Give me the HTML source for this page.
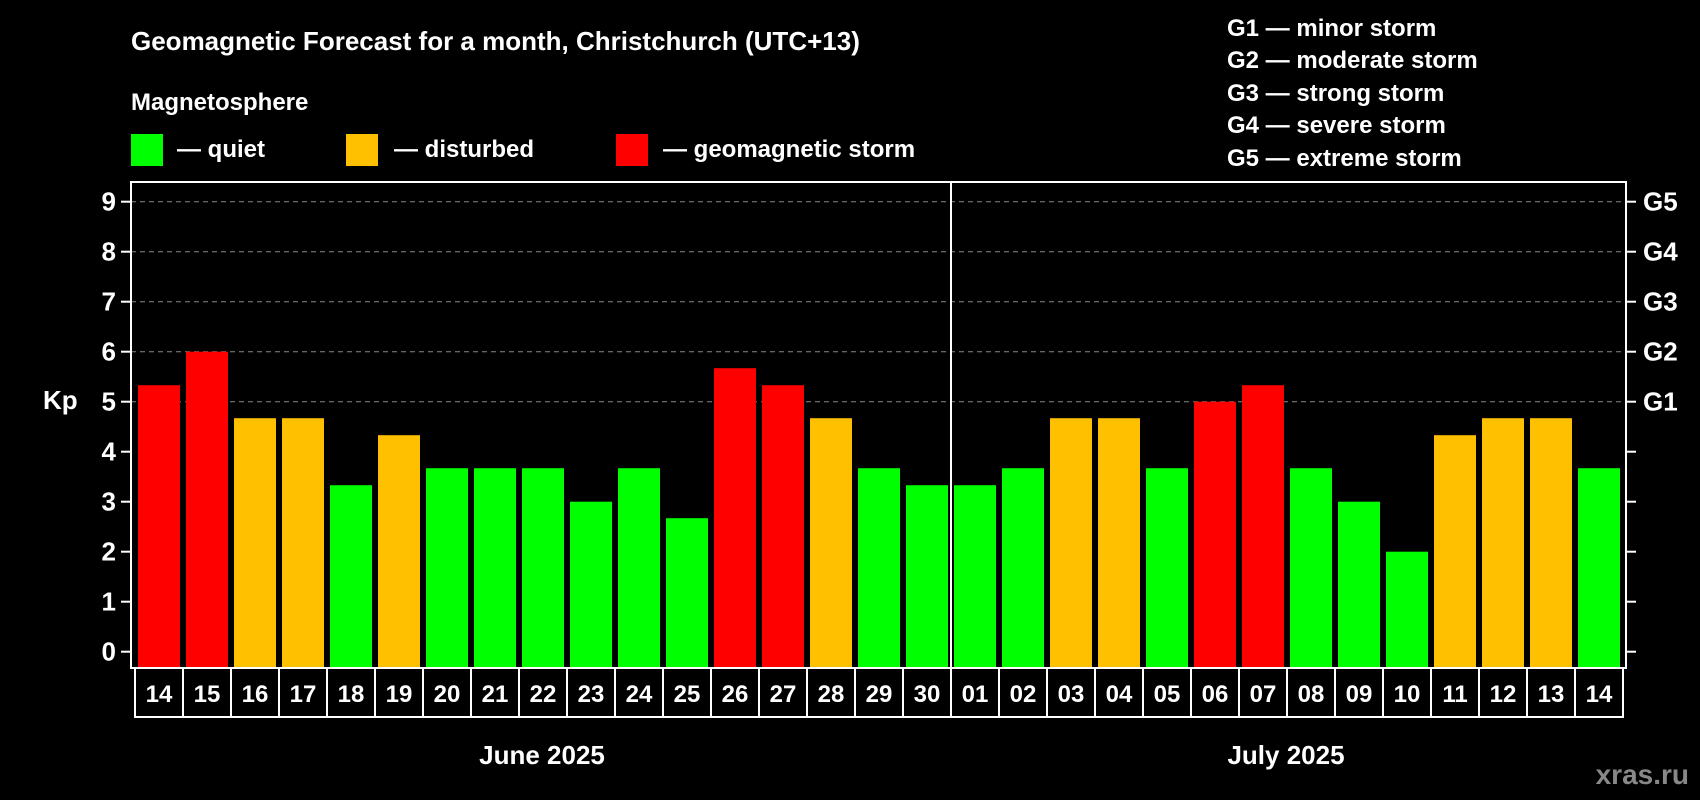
<!DOCTYPE html>
<html><head><meta charset="utf-8"><style>
body{margin:0;background:#000;}
svg{display:block;font-family:"Liberation Sans",Arial,sans-serif;font-weight:bold;}
</style></head><body>
<svg id="chart" width="1700" height="800" viewBox="0 0 1700 800">
<rect x="0" y="0" width="1700" height="800" fill="#000"/>
<text x="131" y="50" fill="#fff" font-size="26">Geomagnetic Forecast for a month, Christchurch (UTC+13)</text>
<text x="131" y="110" fill="#fff" font-size="24">Magnetosphere</text>
<g><rect x="131" y="134" width="32" height="32" fill="#00ff00"/><text x="177" y="157" fill="#fff" font-size="24">— quiet</text></g>
<g><rect x="346" y="134" width="32" height="32" fill="#ffc000"/><text x="394" y="157" fill="#fff" font-size="24">— disturbed</text></g>
<g><rect x="616" y="134" width="32" height="32" fill="#ff0000"/><text x="663" y="157" fill="#fff" font-size="24">— geomagnetic storm</text></g>
<g fill="#fff" font-size="24">
<text x="1227" y="36">G1 — minor storm</text>
<text x="1227" y="68">G2 — moderate storm</text>
<text x="1227" y="101">G3 — strong storm</text>
<text x="1227" y="133">G4 — severe storm</text>
<text x="1227" y="166">G5 — extreme storm</text>
</g>
<text x="43" y="409" fill="#fff" font-size="26">Kp</text>
<g id="grid"></g><g id="bars"></g><g id="axes"></g><g id="labels"></g>
<text x="542" y="764" fill="#fff" font-size="26" text-anchor="middle">June 2025</text>
<text x="1286" y="764" fill="#fff" font-size="26" text-anchor="middle">July 2025</text>
<text x="1689" y="784" fill="#888" font-size="28" text-anchor="end">xras.ru</text>
</svg>
<script>
const days = ["14","15","16","17","18","19","20","21","22","23","24","25","26","27","28","29","30","01","02","03","04","05","06","07","08","09","10","11","12","13","14"];
const kpValues = [5.33,6,4.67,4.67,3.33,4.33,3.67,3.67,3.67,3,3.67,2.67,5.67,5.33,4.67,3.67,3.33,3.33,3.67,4.67,4.67,3.67,5,5.33,3.67,3,2,4.33,4.67,4.67,3.67];
const yTicks = [0,1,2,3,4,5,6,7,8,9];
const gLabels = ["G1","G2","G3","G4","G5"];
const gLevels = [5,6,7,8,9];

const NS="http://www.w3.org/2000/svg";
const L=131,R=1626,T=182,B=668,Y0=651.7,U=50;
const X0=138,STEP=48,BW=42;
const y=v=>Y0-v*U;
const x=i=>X0+i*STEP;
function mk(tag,attrs,parent){const e=document.createElementNS(NS,tag);for(const k in attrs)e.setAttribute(k,attrs[k]);parent.appendChild(e);return e;}
const grid=document.getElementById('grid'),bars=document.getElementById('bars'),axes=document.getElementById('axes'),labels=document.getElementById('labels');
gLevels.forEach(v=>{const l=mk('line',{x1:L,x2:R,y1:y(v),y2:y(v),stroke:'#888','stroke-width':1,'stroke-dasharray':'5,4'},grid);

});
function col(v){return v>=5?'#ff0000':(v>=4?'#ffc000':'#00ff00');}
kpValues.forEach((v,i)=>{const r=mk('rect',{x:x(i),y:y(v),width:BW,height:B-y(v),fill:col(v)},bars);

});
const fr=mk('rect',{x:L,y:T,width:R-L,height:B-T,fill:'none',stroke:'#fff','stroke-width':2},axes);


const split=x(17)-3;
const dv=mk('line',{x1:split,x2:split,y1:T,y2:B,stroke:'#fff','stroke-width':2},axes);


yTicks.forEach(v=>{
 mk('line',{x1:L-10,x2:L,y1:y(v),y2:y(v),stroke:'#fff','stroke-width':2},axes);
 mk('line',{x1:R,x2:R+10,y1:y(v),y2:y(v),stroke:'#fff','stroke-width':2},axes);
 const t=mk('text',{x:116,y:y(v)+9,fill:'#fff','font-size':26,'text-anchor':'end'},axes);t.textContent=v;
 
 
});
gLevels.forEach((v,i)=>{const t=mk('text',{x:1643,y:y(v)+9,fill:'#fff','font-size':26},axes);t.textContent=gLabels[i];

});
days.forEach((d,i)=>{
 const c=mk('rect',{x:x(i)-3,y:B,width:STEP,height:49,fill:'none',stroke:'#fff','stroke-width':2},labels);
 
 
 const t=mk('text',{x:x(i)+BW/2,y:B+34,fill:'#fff','font-size':24,'text-anchor':'middle'},labels);t.textContent=d;
 
 
});
</script>
</body></html>
